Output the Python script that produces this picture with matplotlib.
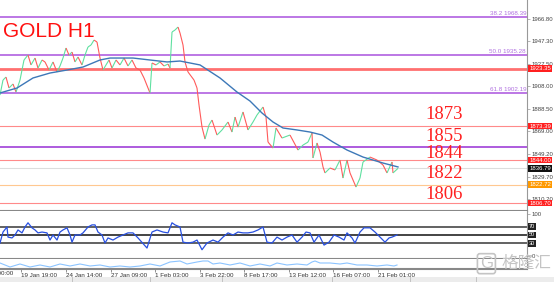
import matplotlib.pyplot as plt
import numpy as np
from matplotlib.collections import LineCollection
from matplotlib.patches import Rectangle

plt.rcParams['font.family'] = ['Liberation Sans', 'DejaVu Sans']

# time axis position of each read point, and price
t = [0, 3, 6, 9, 13, 16, 20, 24, 28, 31, 35, 38, 42, 45, 49, 53, 57, 60, 63, 66,
     69, 72, 75, 78, 82, 85, 88, 91, 94, 97, 100, 103, 106, 109, 112, 116, 120,
     124, 128, 132, 136, 140, 144, 148, 150, 152, 156, 160, 164, 168, 170, 172,
     175, 178, 180, 183, 185, 188, 191, 194, 197, 199, 202, 205, 209, 212, 217,
     222, 228, 232, 235, 238, 243, 248, 253, 257, 263, 266, 268, 273, 276, 282,
     290, 298, 303, 308, 312, 313, 317, 320, 323, 325, 330, 335, 340, 343, 347,
     350, 356, 360, 363, 370, 377, 383, 387, 392, 393, 398]
price = [1900.4, 1913.4, 1916.0, 1906.5, 1910.0, 1903.0, 1913.4, 1930.8, 1935.1,
         1926.5, 1932.5, 1923.8, 1930.8, 1929.1, 1922.1, 1929.1, 1920.4, 1925.6,
         1932.5, 1941.2, 1935.1, 1937.7, 1929.1, 1933.4, 1926.5, 1935.1, 1942.1,
         1943.8, 1948.1, 1946.4, 1932.5, 1922.1, 1926.5, 1930.8, 1923.8, 1930.8,
         1926.5, 1932.5, 1925.6, 1930.8, 1923.8, 1922.1, 1915.2, 1906.5, 1902.2,
         1928.2, 1926.5, 1929.1, 1925.6, 1927.3, 1923.8, 1955.1, 1956.8, 1959.4,
         1954.2, 1943.8, 1929.1, 1920.4, 1916.9, 1913.4, 1906.5, 1891.7, 1872.6,
         1862.2, 1874.4, 1878.7, 1865.7, 1870.1, 1877.0, 1868.3, 1881.3, 1872.6,
         1885.7, 1870.1, 1877.0, 1883.1, 1890.0, 1881.3, 1859.6, 1854.4, 1871.8,
         1863.1, 1865.7, 1852.7, 1857.0, 1859.6, 1867.5, 1845.8, 1858.8, 1851.0,
         1838.0, 1832.8, 1837.1, 1835.4, 1844.0, 1828.4, 1844.0, 1832.8, 1820.6,
         1828.4, 1842.3, 1846.6, 1844.0, 1839.7, 1832.8, 1842.3, 1832.8, 1836.8]

ma_t = [0, 17, 33, 50, 67, 83, 100, 110, 133, 150, 167, 180, 200, 220, 237, 250,
        262, 273, 283, 297, 310, 322, 333, 347, 363, 383, 398]
ma = [1902.2, 1906.5, 1915.2, 1919.5, 1922.1, 1924.7, 1930.8, 1932.5, 1932.5,
      1930.8, 1929.1, 1929.9, 1926.5, 1915.2, 1903.0, 1895.2, 1884.8, 1877.0,
      1871.8, 1870.1, 1868.3, 1865.7, 1859.6, 1852.7, 1846.6, 1841.4, 1838.0]

rsi_t = [0, 3, 7, 8, 12, 15, 18, 22, 25, 28, 32, 35, 38, 42, 47, 50, 53, 57, 60,
         63, 67, 70, 72, 75, 80, 83, 88, 92, 95, 98, 102, 105, 108, 113, 118, 123,
         128, 133, 138, 147, 152, 157, 163, 168, 172, 175, 180, 183, 188, 193, 197,
         202, 207, 213, 218, 223, 228, 233, 238, 243, 248, 253, 258, 263, 267, 272,
         277, 282, 287, 292, 297, 302, 306, 310, 314, 319, 324, 329, 334, 339, 344,
         347, 352, 355, 360, 364, 370, 375, 380, 385, 389, 392, 397]
rsi = [31, 57, 69, 45, 43, 50, 62, 55, 69, 79, 67, 62, 55, 57, 55, 38, 50, 38, 57,
       62, 67, 50, 33, 50, 50, 55, 69, 74, 74, 57, 50, 31, 43, 38, 45, 50, 55, 55,
       43, 19, 57, 62, 57, 55, 79, 74, 69, 33, 31, 33, 38, 15, 31, 38, 33, 45, 55,
       50, 57, 55, 55, 57, 62, 69, 33, 31, 45, 38, 45, 50, 33, 45, 57, 55, 33, 50,
       26, 33, 50, 45, 38, 55, 43, 31, 57, 67, 67, 57, 45, 33, 43, 45, 50]

osc_t = [0, 10, 20, 30, 40, 50, 60, 70, 80, 90, 100, 110, 120, 130, 140, 150, 160,
         170, 180, 187, 197, 203, 208, 213, 220, 230, 240, 250, 260, 270, 277, 287,
         297, 307, 312, 315, 320, 330, 340, 347, 357, 367, 377, 387, 394, 397]
osc = [6, 2, 5, 2, 4, 2, 5, 3, 5, 3, 4, 2, 3, 2, 3, 5, 3, 7, 8, 5, 7, 8, 8, 5, 6,
       4, 6, 3, 5, 3, 6, 4, 5, 4, 7, 8, 6, 6, 5, 6, 4, 4, 3, 4, 3, 4]

fib_levels = [1968.39, 1935.28, 1902.19]
fib_names = ["38.2", "50.0", "61.8"]
key_levels = [1873, 1855, 1844, 1822, 1806]
price_ticks = [1966.80, 1947.30, 1927.50, 1908.00, 1888.50, 1869.00, 1849.20,
               1829.70, 1810.20]
date_ticks = [21, 66, 110.5, 155, 199.5, 244, 288.5, 333, 377.5]
date_labels = ["19 Jan 19:00", "24 Jan 14:00", "27 Jan 09:00", "1 Feb 03:00",
               "3 Feb 22:00", "8 Feb 17:00", "13 Feb 12:00", "16 Feb 07:00",
               "21 Feb 01:00"]

fig = plt.figure(figsize=(5.54, 2.82), dpi=100)
ax = fig.add_axes([0, 0.2518, 0.9513, 0.7482])
rax = fig.add_axes([0, 0.0816, 0.9513, 0.1702])
lax = fig.add_axes([0, 0.0461, 0.9513, 0.0355])

XMAX = 527
for a in (ax, rax, lax):
    a.set_xlim(0, XMAX)
    a.set_xticks([])
    for s in ("top", "left"):
        a.spines[s].set_visible(False)
    a.spines["right"].set_color("#999999")
    a.spines["bottom"].set_color("#888888")
    a.spines["bottom"].set_linewidth(1.5)
    a.yaxis.tick_right()
    a.tick_params(axis="y", length=2, width=0.5, colors="#999999",
                  labelsize=4.3, labelcolor="#444444", pad=1.2)

# main price panel
ax.set_ylim(1799.8, 1982.85)
ax.set_yticks(price_ticks)
ax.set_yticklabels(["%.2f" % v for v in price_ticks])

for lv, nm in zip(fib_levels, fib_names):
    ax.axhline(lv, color="#b060e0", lw=1.2)
    ax.text(XMAX - 1, lv + 0.8, "%s %.2f" % (nm, lv), ha="right", va="bottom",
            fontsize=4.5, color="#b070e0")
ax.axhline(1855.3, color="#a040d8", lw=1.2)
ax.axhline(1923.35, color="#ff7070", lw=2)
for lv in (1873.39, 1844.00, 1806.70):
    ax.axhline(lv, color="#ff8a8a", lw=0.8)
ax.axhline(1836.79, color="#dddddd", lw=0.8)
ax.axhline(1822.72, color="#ffc890", lw=0.8)

# price labels in boxes on the right axis
box_labels = [(1923.35, "#ff2020"), (1873.39, "#ff2020"), (1844.00, "#ff2020"),
              (1836.79, "#111111"), (1822.72, "#ff9900"), (1806.70, "#ff2020")]
for lv, col in box_labels:
    ax.text(1.004, lv, "%.2f" % lv, transform=ax.get_yaxis_transform(),
            ha="left", va="center", fontsize=4.3, color="white", clip_on=False,
            bbox=dict(boxstyle="square,pad=0.12", fc=col, ec="none"))

pts = np.column_stack([t, price])
segs = np.stack([pts[:-1], pts[1:]], axis=1)
cols = ["#5fe0a0" if b > a else "#ff5a5a" for a, b in zip(price[:-1], price[1:])]
ax.add_collection(LineCollection(segs, colors=cols, linewidths=0.8))
ax.plot(ma_t, ma, color="#3d78b8", lw=1.0)

ax.text(3, 1955.9, "GOLD H1", color="#ff1010", fontsize=15,
        family="Liberation Sans", va="center", ha="left")
key_y = [1883.1, 1864.8, 1850.1, 1831.9, 1814.5]
for lv, ty in zip(key_levels, key_y):
    ax.text(425, ty, str(lv), color="#ff2020", fontsize=13.5,
            family="Liberation Serif", va="center", ha="left")

# RSI panel
rax.set_ylim(-7, 107)
rax.set_yticks([0, 100])
rax.set_yticklabels(["0", "100"])
rax.axhline(70, color="#555555", lw=1.3)
rax.axhline(50, color="#111111", lw=1.1)
rax.axhline(30, color="#555555", lw=1.3)
rax.plot(rsi_t, rsi, color="#2850e0", lw=0.9)
for lv in (70, 50, 30):
    rax.text(1.004, lv, str(lv), transform=rax.get_yaxis_transform(),
             ha="left", va="center", fontsize=4, color="white", clip_on=False,
             bbox=dict(boxstyle="square,pad=0.15", fc="#222222", ec="none"))

# lower oscillator panel
lax.set_ylim(0, 10)
lax.set_yticks([])
lax.plot(osc_t, osc, color="#8cc4ff", lw=0.8)
lax.set_xticks(date_ticks)
lax.set_xticklabels(date_labels, ha="left")
lax.tick_params(axis="x", length=2, width=0.5, colors="#666666", labelsize=4.5,
                labelcolor="#333333", pad=1)
lax.text(-23, -2.2, "17 Jan 00:00", fontsize=4.5, color="#333333", ha="left",
         va="top", clip_on=False)

# bottom tab strip
fig.patches.append(Rectangle((0, 0), 1, 0.016, transform=fig.transFigure,
                             fc="#ececec", ec="none"))
for xs in (0.13, 0.27, 0.40, 0.60, 0.74, 0.86):
    fig.lines.append(plt.Line2D([xs, xs], [0, 0.016], transform=fig.transFigure,
                                color="#bbbbbb", lw=0.6))

# watermark
fig.text(0.878, 0.065, "G", fontsize=12, color="#c4c4c4", ha="center",
         va="center", bbox=dict(boxstyle="round,pad=0.15", fc="none",
                                ec="#c4c4c4", lw=1.2))
fig.text(0.905, 0.065, "格隆汇", fontsize=12, color="#c4c4c4", ha="left",
         va="center", family=["Noto Sans CJK SC", "DejaVu Sans"])

fig.savefig("out.png", dpi=100)
